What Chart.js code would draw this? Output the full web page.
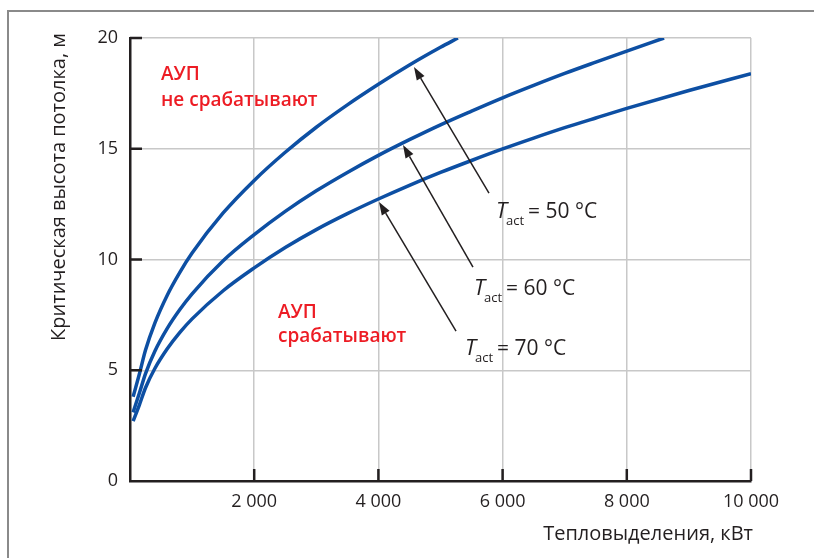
<!DOCTYPE html>
<html>
<head>
<meta charset="utf-8">
<script src="https://cdn.jsdelivr.net/npm/chart.js@4.4.1/dist/chart.umd.min.js"></script>
<style>
  body { margin: 0; background: #fff; }
  canvas { display: block; }
</style>
</head>
<body>
<canvas id="heightChart" width="815" height="558"></canvas>
<script>
// heat release, kW (x) and critical ceiling height, m (y) for each activation temperature
const heat50 = [50, 150, 250, 400, 600, 800, 1000, 1500, 2000, 2500, 3000, 3500, 4000, 4500, 5000, 5280];
const height50 = [3.8, 4.82, 5.91, 7.13, 8.39, 9.41, 10.29, 12.10, 13.57, 14.84, 15.97, 16.98, 17.91, 18.78, 19.58, 20.0];

const heat60 = [50, 150, 250, 400, 600, 800, 1000, 1500, 2000, 2500, 3000, 3500, 4000, 4500, 5000, 5500, 6000, 6500, 7000, 7500, 8000, 8600];
const height60 = [3.1, 3.96, 4.85, 5.86, 6.89, 7.73, 8.45, 9.94, 11.12, 12.17, 13.10, 13.93, 14.70, 15.41, 16.08, 16.70, 17.30, 17.86, 18.40, 18.91, 19.41, 20.0];

const heat70 = [50, 150, 250, 400, 600, 800, 1000, 1500, 2000, 2500, 3000, 3500, 4000, 4500, 5000, 5500, 6000, 6500, 7000, 7500, 8000, 9000, 10000];
const height70 = [2.7, 3.43, 4.21, 5.08, 5.97, 6.70, 7.32, 8.59, 9.62, 10.54, 11.35, 12.07, 12.73, 13.35, 13.93, 14.47, 14.99, 15.48, 15.95, 16.39, 16.82, 17.63, 18.39];

const xTicks = [2000, 4000, 6000, 8000, 10000];
const yTicks = [0, 5, 10, 15, 20];

const tempLabels = ['50', '60', '70'];
// arrow [tailX, tailY, tipX, tipY] and label anchor [x, y], data units
const arrows = [
    [5781, 13.0, 4573, 18.69],
    [5523, 9.66, 4396, 15.17],
    [5250, 6.77, 4010, 12.6]
];
const labelAnchors = [[5894, 11.87], [5539, 8.40], [5394, 5.69]];

const FONT = '"Open Sans", "Noto Sans", sans-serif';
const curveColor = '#0d4fa3';
const red = '#ed1c24';

function toPoints(xs, ys) {
    return xs.map((x, i) => ({ x: x, y: ys[i] }));
}

function fmtThousands(v) {
    return String(v).replace(/\B(?=(\d{3})+(?!\d))/g, ' ');
}

const lineStyle = {
    borderColor: curveColor,
    borderWidth: 3.5,
    pointRadius: 0,
    fill: false,
    cubicInterpolationMode: 'monotone'
};

const decorations = {
    id: 'decorations',
    beforeDraw(chart) {
        const { ctx } = chart;
        ctx.save();
        ctx.strokeStyle = '#8a8a8a';
        ctx.lineWidth = 2;
        ctx.beginPath();
        ctx.moveTo(8, 558);
        ctx.lineTo(8, 11);
        ctx.lineTo(814, 11);
        ctx.stroke();
        ctx.restore();
    },
    afterDraw(chart) {
        const { ctx, scales: { x, y }, chartArea } = chart;
        ctx.save();

        // inward tick marks
        ctx.strokeStyle = '#231f20';
        ctx.lineWidth = 2.5;
        ctx.beginPath();
        yTicks.slice(1).forEach(v => {
            const py = y.getPixelForValue(v);
            ctx.moveTo(chartArea.left, py);
            ctx.lineTo(chartArea.left + 12, py);
        });
        xTicks.forEach(v => {
            const px = x.getPixelForValue(v);
            ctx.moveTo(px, chartArea.bottom);
            ctx.lineTo(px, chartArea.bottom - 12);
        });
        ctx.stroke();

        // arrows
        ctx.strokeStyle = '#231f20';
        ctx.fillStyle = '#231f20';
        ctx.lineWidth = 1.5;
        arrows.forEach(a => {
            const x1 = x.getPixelForValue(a[0]), y1 = y.getPixelForValue(a[1]);
            const x2 = x.getPixelForValue(a[2]), y2 = y.getPixelForValue(a[3]);
            const ang = Math.atan2(y2 - y1, x2 - x1);
            const len = 13, half = 4.5;
            const bx = x2 - len * Math.cos(ang), by = y2 - len * Math.sin(ang);
            ctx.beginPath();
            ctx.moveTo(x1, y1);
            ctx.lineTo(bx, by);
            ctx.stroke();
            ctx.beginPath();
            ctx.moveTo(x2, y2);
            ctx.lineTo(bx + half * Math.sin(ang), by - half * Math.cos(ang));
            ctx.lineTo(bx - half * Math.sin(ang), by + half * Math.cos(ang));
            ctx.closePath();
            ctx.fill();
        });

        // T_act labels
        ctx.fillStyle = '#231f20';
        ctx.textBaseline = 'alphabetic';
        ctx.textAlign = 'left';
        labelAnchors.forEach((p, i) => {
            const px = x.getPixelForValue(p[0]), py = y.getPixelForValue(p[1]);
            ctx.font = 'italic 22px ' + FONT;
            ctx.fillText('T', px, py);
            ctx.font = '13px ' + FONT;
            ctx.fillText('act', px + 10, py + 7);
            ctx.font = '21px ' + FONT;
            ctx.fillText('= ' + tempLabels[i] + ' °C', px + 32, py);
        });

        // region labels
        ctx.fillStyle = red;
        ctx.font = '600 19px ' + FONT;
        ctx.fillText('АУП', x.getPixelForValue(500), y.getPixelForValue(18.1));
        ctx.fillText('не срабатывают', x.getPixelForValue(500), y.getPixelForValue(16.93));
        ctx.fillText('АУП', x.getPixelForValue(2383), y.getPixelForValue(7.36));
        ctx.fillText('срабатывают', x.getPixelForValue(2383), y.getPixelForValue(6.28));

        // axis titles
        ctx.fillStyle = '#231f20';
        ctx.font = '20px ' + FONT;
        ctx.textAlign = 'right';
        ctx.fillText('Тепловыделения, кВт', 753, 540);
        ctx.translate(59, 33);
        ctx.rotate(-Math.PI / 2);
        ctx.textBaseline = 'middle';
        ctx.fillText('Критическая высота потолка, м', 0, 0);

        ctx.restore();
    }
};

new Chart(document.getElementById('heightChart').getContext('2d'), {
    type: 'line',
    data: {
        datasets: [
            { ...lineStyle, label: '50', data: toPoints(heat50, height50) },
            { ...lineStyle, label: '60', data: toPoints(heat60, height60) },
            { ...lineStyle, label: '70', data: toPoints(heat70, height70) }
        ]
    },
    options: {
        responsive: false,
        animation: false,
        layout: { padding: { left: 0, right: 64, top: 38, bottom: 0 } },
        plugins: { legend: { display: false }, tooltip: { enabled: false } },
        scales: {
            x: {
                type: 'linear',
                min: 0,
                max: 10000,
                afterFit: s => { s.height = 77; },
                afterBuildTicks: s => { s.ticks = [0].concat(xTicks).map(v => ({ value: v })); },
                ticks: {
                    color: '#231f20',
                    font: { family: FONT, size: 18 },
                    padding: 10,
                    maxRotation: 0,
                    callback: v => v === 0 ? '' : fmtThousands(v)
                },
                grid: { color: '#c8c8c8', lineWidth: 1.5, drawTicks: false },
                border: { color: '#231f20', width: 2.5 }
            },
            y: {
                min: 0,
                max: 20,
                afterFit: s => { s.width = 130; },
                afterBuildTicks: s => { s.ticks = yTicks.map(v => ({ value: v })); },
                ticks: {
                    color: '#231f20',
                    font: { family: FONT, size: 18 },
                    padding: 12
                },
                grid: { color: '#c8c8c8', lineWidth: 1.5, drawTicks: false },
                border: { color: '#231f20', width: 2.5 }
            }
        }
    },
    plugins: [decorations]
});
</script>
</body>
</html>
